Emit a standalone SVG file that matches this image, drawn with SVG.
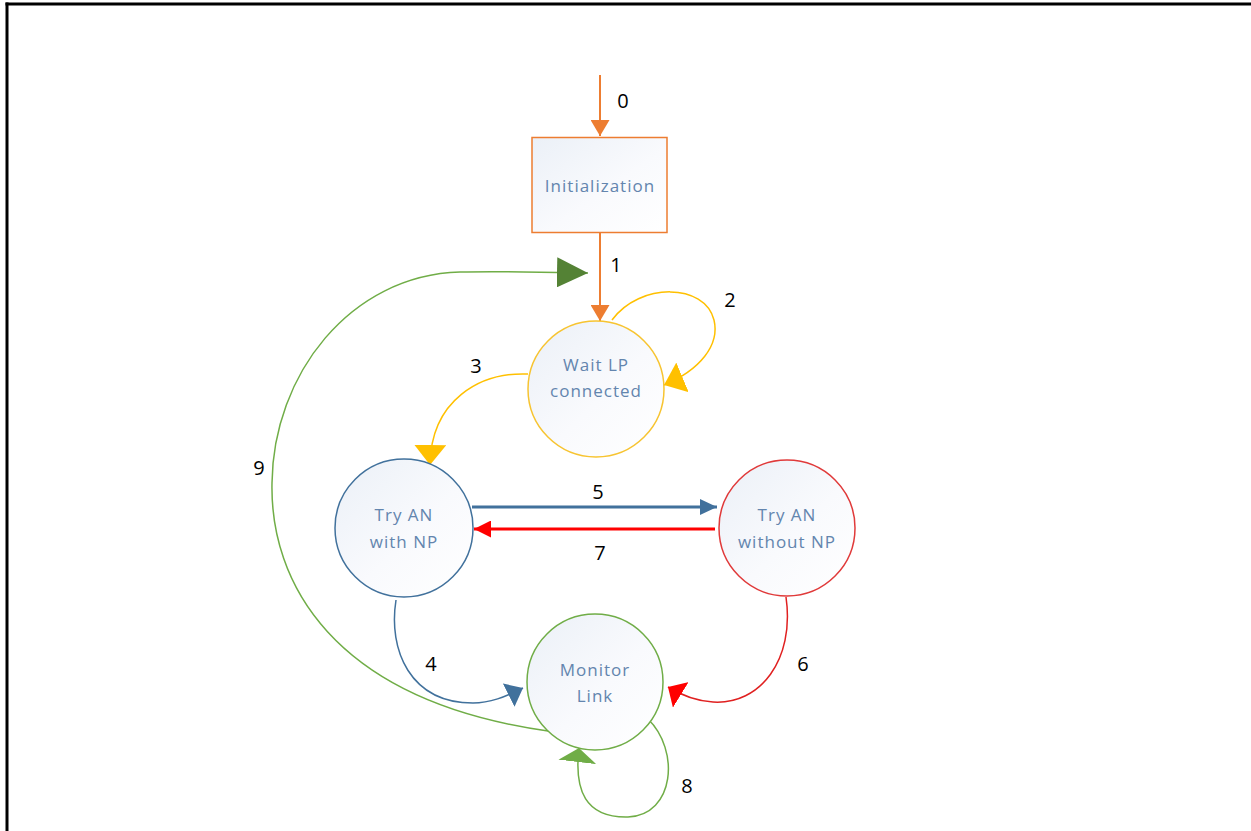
<svg xmlns="http://www.w3.org/2000/svg" width="1251" height="831" viewBox="0 0 1251 831">
  <style>
    .node-text { font-family: "Open Sans", "Noto Sans", sans-serif; font-size: 17px; fill: #6385AE; text-anchor: middle; letter-spacing: 1px; }
    .num { font-family: "Open Sans", "Noto Sans", sans-serif; font-size: 20px; fill: #000000; text-anchor: middle; }
    .conn { fill: none; }
  </style>
  <defs>
    <linearGradient id="fillGrad" x1="0" y1="0" x2="1" y2="1">
      <stop offset="0" stop-color="#EBF0F7"/>
      <stop offset="0.55" stop-color="#F9FAFD"/>
      <stop offset="1" stop-color="#FFFFFF"/>
    </linearGradient>
    <marker id="mOrange" markerUnits="userSpaceOnUse" viewBox="0 0 16 19" refX="16" refY="9.5" markerWidth="16" markerHeight="19" orient="auto">
      <path d="M0,0 L16,9.5 L0,19 z" fill="#ED7D31"/>
    </marker>
    <marker id="mYellow" markerUnits="userSpaceOnUse" viewBox="0 0 20 32" refX="20" refY="16" markerWidth="20" markerHeight="32" orient="auto">
      <path d="M0,0 L20,16 L0,32 z" fill="#FFC000"/>
    </marker>
    <marker id="mBlue" markerUnits="userSpaceOnUse" viewBox="0 0 17 16" refX="17" refY="8" markerWidth="17" markerHeight="16" orient="auto">
      <path d="M0,0 L17,8 L0,16 z" fill="#41719C"/>
    </marker>
    <marker id="mBlueBig" markerUnits="userSpaceOnUse" viewBox="0 0 16 26" refX="16" refY="13" markerWidth="16" markerHeight="26" orient="auto">
      <path d="M0,0 L16,13 L0,26 z" fill="#41719C"/>
    </marker>
    <marker id="mRed" markerUnits="userSpaceOnUse" viewBox="0 0 17 17" refX="17" refY="8.5" markerWidth="17" markerHeight="17" orient="auto">
      <path d="M0,0 L17,8.5 L0,17 z" fill="#FF0000"/>
    </marker>
    <marker id="mRedBig" markerUnits="userSpaceOnUse" viewBox="0 0 15 30" refX="15" refY="15" markerWidth="15" markerHeight="30" orient="auto">
      <path d="M0,0 L15,15 L0,30 z" fill="#FF0000"/>
    </marker>
    <marker id="mGreenDark" markerUnits="userSpaceOnUse" viewBox="0 0 31 30" refX="31" refY="15" markerWidth="31" markerHeight="30" orient="auto">
      <path d="M0,0 L31,15 L0,30 z" fill="#548235"/>
    </marker>
    <marker id="mGreen" markerUnits="userSpaceOnUse" viewBox="0 0 14 38" refX="14" refY="19" markerWidth="14" markerHeight="38" orient="auto">
      <path d="M0,0 L14,19 L0,38 z" fill="#70AD47"/>
    </marker>
  </defs>

  <rect x="0" y="0" width="1251" height="831" fill="#FFFFFF"/>
  <!-- frame -->
  <line x1="5.5" y1="4" x2="1251" y2="4" stroke="#000" stroke-width="3"/>
  <line x1="7" y1="2.5" x2="7" y2="831" stroke="#000" stroke-width="3"/>

  <g id="connectors">
    <path id="c0" class="conn" d="M600,75 L600,136" stroke="#ED7D31" stroke-width="2" marker-end="url(#mOrange)"/>
    <path id="c1" class="conn" d="M600,233 L600,321" stroke="#ED7D31" stroke-width="2" marker-end="url(#mOrange)"/>
    <path id="c2" class="conn" d="M612,320 C640,282 705,283 714,320 C720,345 700,370 664,385" stroke="#FFC000" stroke-width="1.5" marker-end="url(#mYellow)"/>
    <path id="c3" class="conn" d="M528,374 C480,372 431,400 430,465" stroke="#FFC000" stroke-width="1.5" marker-end="url(#mYellow)"/>
    <path id="c5" class="conn" d="M472,507 L717,507" stroke="#41719C" stroke-width="3" marker-end="url(#mBlue)"/>
    <path id="c7" class="conn" d="M715,529 L474,529" stroke="#FF0000" stroke-width="3" marker-end="url(#mRed)"/>
    <path id="c4" class="conn" d="M396,600 C388,650 410,703 473,703 C490,703 505,697 523,688" stroke="#41719C" stroke-width="1.5" marker-end="url(#mBlueBig)"/>
    <path id="c6" class="conn" d="M786,597 C795,660 760,705 713,702 C695,701 681,695 668,687" stroke="#E02020" stroke-width="1.5" marker-end="url(#mRedBig)"/>
    <path id="c8" class="conn" d="M648,719 C680,750 675,815 628,817 C585,818 574,790 579,748" stroke="#70AD47" stroke-width="1.5" marker-end="url(#mGreen)"/>
    <path id="c9" class="conn" d="M548,731 C330,700 270,580 272,483 C273,375 350,275 460,272 C500,271 540,272 588,273" stroke="#70AD47" stroke-width="1.5" marker-end="url(#mGreenDark)"/>
    <text class="num" x="623" y="108">0</text>
    <text class="num" x="616" y="272">1</text>
    <text class="num" x="730" y="307">2</text>
    <text class="num" x="476" y="373">3</text>
    <text class="num" x="431" y="671">4</text>
    <text class="num" x="598" y="499">5</text>
    <text class="num" x="803" y="671">6</text>
    <text class="num" x="600" y="560">7</text>
    <text class="num" x="687" y="793">8</text>
    <text class="num" x="259" y="475">9</text>
  </g>

  <g id="initialization">
    <rect x="532" y="137.5" width="135" height="95" fill="url(#fillGrad)" stroke="#ED7D31" stroke-width="1.5"/>
    <text class="node-text" x="600" y="192">Initialization</text>
  </g>

  <g id="wait-lp">
    <circle cx="596" cy="389" r="68" fill="url(#fillGrad)" stroke="#F7C431" stroke-width="1.5"/>
    <text class="node-text" x="596" y="371">Wait LP</text>
    <text class="node-text" x="596" y="397">connected</text>
  </g>

  <g id="try-an-with-np">
    <circle cx="404" cy="528" r="69" fill="url(#fillGrad)" stroke="#41719C" stroke-width="1.5"/>
    <text class="node-text" x="404" y="521">Try AN</text>
    <text class="node-text" x="404" y="548">with NP</text>
  </g>

  <g id="try-an-without-np">
    <circle cx="787" cy="528" r="68" fill="url(#fillGrad)" stroke="#E03A3A" stroke-width="1.5"/>
    <text class="node-text" x="787" y="521">Try AN</text>
    <text class="node-text" x="787" y="548">without NP</text>
  </g>

  <g id="monitor-link">
    <circle cx="595" cy="682" r="68" fill="url(#fillGrad)" stroke="#70AD47" stroke-width="1.5"/>
    <text class="node-text" x="595" y="676">Monitor</text>
    <text class="node-text" x="595" y="702">Link</text>
  </g>
</svg>
